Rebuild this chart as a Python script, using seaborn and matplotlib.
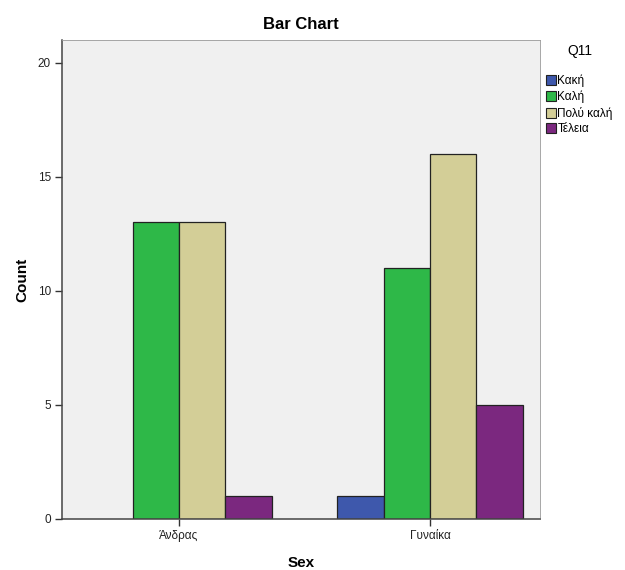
import pandas as pd
import matplotlib
matplotlib.use("Agg")
import matplotlib.pyplot as plt
import seaborn as sns
from matplotlib.patches import Patch

# counts
sexes = ["Άνδρας", "Γυναίκα"]
ratings = ["Κακή", "Καλή", "Πολύ καλή", "Τέλεια"]
counts_men = [0, 13, 13, 1]
counts_women = [1, 11, 16, 5]
colors = ["#3E58AC", "#2EB848", "#D3CE97", "#7B287F"]

data = pd.DataFrame({
    "Sex": [sexes[0]] * 4 + [sexes[1]] * 4,
    "Q11": ratings * 2,
    "Count": counts_men + counts_women,
})

sns.set_style("white")
plt.rcParams["font.family"] = ["Liberation Sans", "DejaVu Sans"]
plt.rcParams["text.color"] = "black"
plt.rcParams["axes.labelcolor"] = "black"

fig = plt.figure(figsize=(6.25, 5.7), dpi=100)
ax = fig.add_axes([0.0992, 0.0895, 0.7648, 0.8403])
ax.set_facecolor("#F0F0F0")

sns.barplot(data=data, x="Sex", y="Count", hue="Q11", order=sexes,
            hue_order=ratings, palette=colors, width=0.74,
            edgecolor="#222222", linewidth=0.9, saturation=1,
            legend=False, ax=ax)

# hide the zero-height bar
for p in ax.patches:
    if p.get_height() == 0:
        p.set_visible(False)

ax.set_ylim(0, 21)
ax.set_xlim(-0.466, 1.438)
ax.set_yticks([0, 5, 10, 15, 20])
ax.tick_params(axis="both", direction="out", length=5, width=1,
               bottom=True, left=True, colors="#333333", labelsize=8.5,
               labelcolor="#222222", pad=3)

for side in ["left", "bottom"]:
    ax.spines[side].set_color("#444444")
    ax.spines[side].set_linewidth(1.1)
for side in ["top", "right"]:
    ax.spines[side].set_color("#999999")
    ax.spines[side].set_linewidth(0.6)

ax.set_title("Bar Chart", fontsize=12, fontweight="bold", pad=8, color="black")
ax.set_xlabel("Sex", fontsize=11, fontweight="bold", labelpad=10)
ax.set_ylabel("Count", fontsize=11, fontweight="bold", labelpad=6)

handles = [Patch(facecolor=c, edgecolor="#222222", linewidth=0.8) for c in colors]
leg = fig.legend(handles, ratings, title="Q11", loc="upper left",
                 bbox_to_anchor=(0.872, 0.925), frameon=False, fontsize=8.5,
                 title_fontsize=10, handlelength=0.8, handleheight=0.9,
                 handletextpad=0.15, labelspacing=0.3, borderaxespad=0,
                 borderpad=0.1)
leg._legend_box.sep = 12

fig.savefig("out.png", dpi=100)
